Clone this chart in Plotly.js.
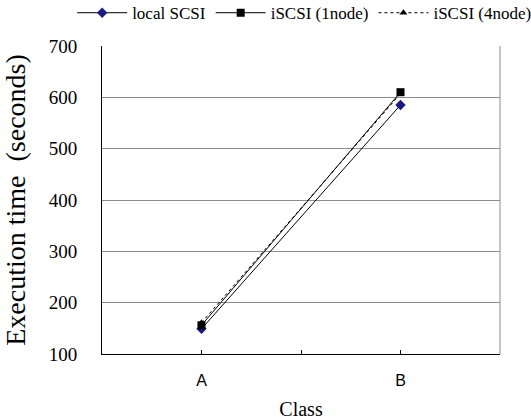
<!DOCTYPE html>
<html>
<head>
<meta charset="utf-8">
<script src="https://cdn.plot.ly/plotly-3.0.1.min.js"></script>
<style>html,body{margin:0;padding:0;background:#fff;}#chart{width:531px;height:420px;}</style>
</head>
<body>
<div id="chart"></div>
<script>
var categories = ['A', 'B'];
var localSCSI = [149, 585];
var iscsi1node = [156, 610];
var iscsi4node = [161, 607];
var yTicks = [100, 200, 300, 400, 500, 600, 700];

var xIdx = categories.map(function (c, i) { return i; });
var serif = 'Liberation Serif, Times New Roman, serif';

var traces = [
  {x: xIdx, y: localSCSI, name: 'local SCSI', mode: 'lines+markers',
   line: {color: '#000', width: 1}, marker: {symbol: 'diamond', size: 8, color: '#1a1a80', line: {width: 0}}},
  {x: xIdx, y: iscsi1node, name: 'iSCSI (1node)', mode: 'lines+markers',
   line: {color: '#000', width: 1}, marker: {symbol: 'square', size: 8, color: '#000'}},
  {x: xIdx, y: iscsi4node, name: 'iSCSI (4node)', mode: 'lines+markers',
   line: {color: '#000', width: 1, dash: 'dot'}, marker: {symbol: 'triangle-up', size: 7, color: '#000'}}
];

var layout = {
  width: 531, height: 420,
  margin: {l: 102, r: 31, t: 46, b: 66, autoexpand: false},
  paper_bgcolor: '#fff', plot_bgcolor: '#fff',
  showlegend: true,
  legend: {orientation: 'h', x: -0.075, y: 1.165, yanchor: 'top', xanchor: 'left',
           font: {family: serif, size: 17, color: '#000'}, itemwidth: 50, tracegroupgap: 0, bgcolor: 'rgba(0,0,0,0)'},
  xaxis: {
    range: [-0.5, 1.5], tickvals: [-0.5, 0, 0.5, 1, 1.5], ticktext: ['', categories[0], '', categories[1], ''],
    showgrid: false, zeroline: false, showline: true, linecolor: '#000', linewidth: 1,
    ticks: 'inside', ticklen: 4, tickcolor: '#000',
    tickfont: {family: 'Liberation Sans, Arial, sans-serif', size: 16, color: '#000'}, ticklabelstandoff: 12,
    title: {text: 'Class', font: {family: serif, size: 20, color: '#000'}, standoff: 29}
  },
  yaxis: {
    range: [100, 700], tickvals: yTicks, ticktext: yTicks.map(String),
    showgrid: true, gridcolor: '#8c8c8c', gridwidth: 1, zeroline: false,
    showline: true, linecolor: '#000', linewidth: 1, ticks: '',
    tickfont: {family: serif, size: 19, color: '#000'}, ticklabelstandoff: 20,
    title: {text: 'Execution time  (seconds)', font: {family: serif, size: 28, color: '#000'}, standoff: 14}
  },
  shapes: [
    {type: 'line', xref: 'paper', yref: 'paper', x0: 1, x1: 1, y0: 0, y1: 1, line: {color: '#8c8c8c', width: 1}}
  ]
};

Plotly.newPlot('chart', traces, layout, {staticPlot: true, displayModeBar: false});
</script>
</body>
</html>
